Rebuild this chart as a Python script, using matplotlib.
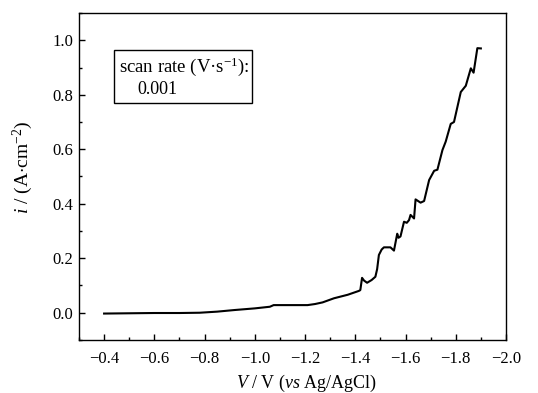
import matplotlib
matplotlib.use("Agg")
import matplotlib.pyplot as plt
from matplotlib.ticker import MultipleLocator
from matplotlib.patches import Rectangle

plt.rcParams['font.family'] = ['Liberation Serif', 'DejaVu Serif']
plt.rcParams['mathtext.fontset'] = 'custom'
plt.rcParams['mathtext.rm'] = 'Liberation Serif'
plt.rcParams['mathtext.it'] = 'Liberation Serif:italic'

voltage = [-0.40, -0.50, -0.60, -0.70, -0.78, -0.85, -0.92, -1.00, -1.06, -1.075, -1.10,
           -1.21, -1.24, -1.27, -1.315, -1.37, -1.414,
           -1.420, -1.427, -1.435, -1.447, -1.465, -1.48, -1.487, -1.494, -1.505, -1.514,
           -1.54, -1.554, -1.567, -1.572, -1.58,
           -1.594, -1.605, -1.614, -1.62, -1.634, -1.64, -1.65, -1.66, -1.674, -1.694, -1.714,
           -1.727, -1.747, -1.76, -1.78, -1.793, -1.82, -1.84, -1.86, -1.871,
           -1.886, -1.90]
current = [-0.003, -0.002, -0.001, -0.001, 0.0, 0.004, 0.01, 0.016, 0.022, 0.028, 0.028,
           0.028, 0.032, 0.038, 0.053, 0.066, 0.08,
           0.083, 0.128, 0.118, 0.11, 0.12, 0.132, 0.16, 0.212, 0.232, 0.24,
           0.24, 0.228, 0.29, 0.275, 0.28,
           0.334, 0.33, 0.34, 0.359, 0.346, 0.416, 0.41, 0.404, 0.41, 0.487, 0.521,
           0.525, 0.597, 0.628, 0.693, 0.70, 0.81, 0.833, 0.897, 0.881,
           0.971, 0.97]

fig = plt.figure(figsize=(5.38, 3.93), dpi=100)
ax = fig.add_axes([0.1468, 0.1349, 0.7937, 0.8320])
ax.plot(voltage, current, color='black', lw=1.5)
ax.set_xlim(-0.3, -2.0)
ax.set_ylim(-0.1, 1.1)
ax.xaxis.set_minor_locator(MultipleLocator(0.1))
ax.yaxis.set_minor_locator(MultipleLocator(0.1))
ax.set_xticks([-0.4, -0.6, -0.8, -1.0, -1.2, -1.4, -1.6, -1.8, -2.0])
ax.set_yticks([0.0, 0.2, 0.4, 0.6, 0.8, 1.0])
ax.tick_params(which='both', direction='in', top=False, right=False, labelsize=12)
ax.tick_params(which='major', length=4, width=1)
ax.tick_params(which='minor', length=2.5, width=1)
ax.tick_params(axis='x', which='major', pad=8)
ax.tick_params(axis='y', which='major', pad=4)
for s in ax.spines.values():
    s.set_linewidth(1.0)

ax.set_xlabel('$V$ / V ($vs$ Ag/AgCl)', fontsize=13)
ax.set_ylabel('$i$ / (A$\\cdot$cm$^{-2}$)', fontsize=14)
ax.xaxis.set_label_coords(0.532, -0.100)
ax.yaxis.set_label_coords(-0.103, 0.527)

ax.add_patch(Rectangle((0.082, 0.725), 0.323, 0.162, transform=ax.transAxes,
                       fc='white', ec='black', lw=1.0, zorder=3))
ax.text(0.094, 0.82, 'scan rate (V\u00b7s$^{-1}$):', transform=ax.transAxes,
        fontsize=13.5, va='baseline', ha='left', zorder=4)
ax.text(0.136, 0.751, '0.001', transform=ax.transAxes,
        fontsize=13, va='baseline', ha='left', zorder=4)

fig.savefig('out.png', dpi=100)
